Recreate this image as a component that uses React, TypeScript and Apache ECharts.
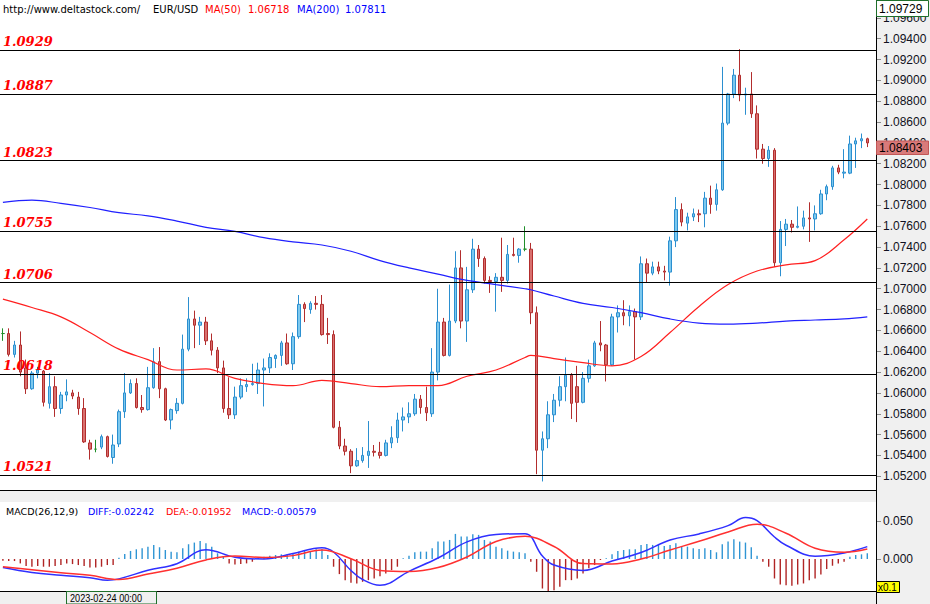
import React, { useEffect, useRef } from 'react';
import * as echarts from 'echarts';

const opens = [
  1.0657, 1.0657, 1.0637, 1.0646, 1.0624, 1.0604, 1.0619, 1.0621, 1.0590, 1.0606,
  1.0585, 1.0598, 1.0600, 1.0596, 1.0585, 1.0552, 1.0546, 1.0548, 1.0558, 1.0538,
  1.0551, 1.0582, 1.0600, 1.0609, 1.0586, 1.0584, 1.0605, 1.0630, 1.0604, 1.0574,
  1.0583, 1.0590, 1.0642, 1.0671, 1.0665, 1.0668, 1.0650, 1.0641, 1.0624, 1.0585,
  1.0579, 1.0596, 1.0606, 1.0608, 1.0609, 1.0622, 1.0624, 1.0633, 1.0636, 1.0648,
  1.0628, 1.0654, 1.0685, 1.0680, 1.0686, 1.0685, 1.0657, 1.0656, 1.0567, 1.0549,
  1.0544, 1.0530, 1.0535, 1.0540, 1.0544, 1.0543, 1.0540, 1.0552, 1.0557, 1.0574,
  1.0577, 1.0580, 1.0594, 1.0586, 1.0580, 1.0620, 1.0668, 1.0636, 1.0669, 1.0720,
  1.0669, 1.0699, 1.0738, 1.0729, 1.0708, 1.0707, 1.0711, 1.0708, 1.0733, 1.0732,
  1.0738, 1.0738, 1.0677, 1.0545, 1.0556, 1.0579, 1.0593, 1.0606, 1.0617, 1.0606,
  1.0591, 1.0614, 1.0626, 1.0648, 1.0646, 1.0627, 1.0673, 1.0677, 1.0674, 1.0678,
  1.0673, 1.0724, 1.0715, 1.0721, 1.0717, 1.0716, 1.0746, 1.0776, 1.0763, 1.0769,
  1.0772, 1.0772, 1.0787, 1.0781, 1.0795, 1.0859, 1.0887, 1.0905, 1.0886, 1.0887,
  1.0868, 1.0834, 1.0825, 1.0833, 1.0725, 1.0757, 1.0762, 1.0759, 1.0760, 1.0768,
  1.0767, 1.0772, 1.0791, 1.0798, 1.0816, 1.0811, 1.0811, 1.0839, 1.0842, 1.0844,
];

const closes = [
  1.0657, 1.0637, 1.0646, 1.0620, 1.0604, 1.0619, 1.0622, 1.0591, 1.0606, 1.0585,
  1.0598, 1.0601, 1.0597, 1.0585, 1.0553, 1.0546, 1.0546, 1.0558, 1.0539, 1.0550,
  1.0582, 1.0600, 1.0609, 1.0586, 1.0584, 1.0605, 1.0630, 1.0604, 1.0574, 1.0584,
  1.0590, 1.0642, 1.0671, 1.0665, 1.0668, 1.0650, 1.0641, 1.0624, 1.0585, 1.0579,
  1.0596, 1.0607, 1.0608, 1.0609, 1.0622, 1.0624, 1.0634, 1.0636, 1.0648, 1.0628,
  1.0654, 1.0685, 1.0681, 1.0686, 1.0685, 1.0656, 1.0656, 1.0567, 1.0549, 1.0544,
  1.0530, 1.0535, 1.0540, 1.0544, 1.0543, 1.0540, 1.0552, 1.0557, 1.0574, 1.0577,
  1.0580, 1.0594, 1.0586, 1.0581, 1.0620, 1.0668, 1.0636, 1.0669, 1.0720, 1.0669,
  1.0699, 1.0738, 1.0729, 1.0708, 1.0707, 1.0711, 1.0708, 1.0733, 1.0732, 1.0738,
  1.0738, 1.0677, 1.0545, 1.0556, 1.0579, 1.0593, 1.0606, 1.0617, 1.0590, 1.0591,
  1.0614, 1.0626, 1.0648, 1.0646, 1.0627, 1.0673, 1.0677, 1.0674, 1.0678, 1.0673,
  1.0724, 1.0715, 1.0721, 1.0717, 1.0716, 1.0746, 1.0776, 1.0764, 1.0769, 1.0772,
  1.0771, 1.0787, 1.0781, 1.0795, 1.0859, 1.0887, 1.0905, 1.0886, 1.0887, 1.0868,
  1.0834, 1.0825, 1.0833, 1.0725, 1.0757, 1.0762, 1.0759, 1.0760, 1.0768, 1.0767,
  1.0772, 1.0791, 1.0798, 1.0816, 1.0812, 1.0812, 1.0839, 1.0842, 1.0844, 1.0840,
];

const highs = [
  1.0662, 1.0662, 1.0650, 1.0659, 1.0632, 1.0621, 1.0625, 1.0622, 1.0619, 1.0616,
  1.0601, 1.0613, 1.0603, 1.0601, 1.0595, 1.0555, 1.0555, 1.0560, 1.0559, 1.0560,
  1.0584, 1.0619, 1.0613, 1.0614, 1.0598, 1.0625, 1.0643, 1.0644, 1.0605, 1.0585,
  1.0595, 1.0656, 1.0692, 1.0679, 1.0673, 1.0673, 1.0657, 1.0644, 1.0631, 1.0615,
  1.0606, 1.0614, 1.0614, 1.0628, 1.0629, 1.0633, 1.0638, 1.0637, 1.0650, 1.0657,
  1.0658, 1.0694, 1.0687, 1.0688, 1.0693, 1.0694, 1.0672, 1.0660, 1.0573, 1.0556,
  1.0546, 1.0547, 1.0548, 1.0573, 1.0550, 1.0553, 1.0555, 1.0568, 1.0581, 1.0586,
  1.0591, 1.0599, 1.0598, 1.0606, 1.0643, 1.0700, 1.0672, 1.0704, 1.0736, 1.0737,
  1.0721, 1.0748, 1.0742, 1.0731, 1.0712, 1.0715, 1.0749, 1.0742, 1.0749, 1.0739,
  1.0760, 1.0744, 1.0683, 1.0563, 1.0592, 1.0599, 1.0616, 1.0634, 1.0619, 1.0626,
  1.0620, 1.0632, 1.0650, 1.0669, 1.0647, 1.0676, 1.0684, 1.0689, 1.0684, 1.0681,
  1.0731, 1.0729, 1.0726, 1.0726, 1.0722, 1.0750, 1.0788, 1.0782, 1.0773, 1.0777,
  1.0776, 1.0793, 1.0799, 1.0801, 1.0913, 1.0888, 1.0911, 1.0930, 1.0893, 1.0908,
  1.0876, 1.0839, 1.0837, 1.0835, 1.0765, 1.0767, 1.0766, 1.0779, 1.0775, 1.0783,
  1.0780, 1.0795, 1.0800, 1.0818, 1.0819, 1.0834, 1.0847, 1.0845, 1.0849, 1.0845,
];

const lows = [
  1.0650, 1.0635, 1.0634, 1.0616, 1.0599, 1.0603, 1.0614, 1.0587, 1.0585, 1.0577,
  1.0580, 1.0592, 1.0594, 1.0579, 1.0552, 1.0536, 1.0543, 1.0546, 1.0538, 1.0532,
  1.0548, 1.0576, 1.0599, 1.0585, 1.0581, 1.0583, 1.0604, 1.0595, 1.0573, 1.0565,
  1.0580, 1.0589, 1.0640, 1.0643, 1.0646, 1.0646, 1.0636, 1.0619, 1.0581, 1.0575,
  1.0575, 1.0594, 1.0601, 1.0607, 1.0599, 1.0587, 1.0619, 1.0624, 1.0626, 1.0627,
  1.0622, 1.0652, 1.0668, 1.0676, 1.0680, 1.0655, 1.0647, 1.0566, 1.0546, 1.0540,
  1.0523, 1.0529, 1.0533, 1.0528, 1.0539, 1.0537, 1.0539, 1.0547, 1.0552, 1.0563,
  1.0571, 1.0578, 1.0580, 1.0573, 1.0577, 1.0612, 1.0635, 1.0635, 1.0667, 1.0662,
  1.0649, 1.0696, 1.0721, 1.0705, 1.0696, 1.0678, 1.0697, 1.0705, 1.0731, 1.0725,
  1.0736, 1.0666, 1.0522, 1.0515, 1.0547, 1.0572, 1.0587, 1.0592, 1.0575, 1.0572,
  1.0590, 1.0610, 1.0625, 1.0640, 1.0611, 1.0626, 1.0658, 1.0665, 1.0664, 1.0632,
  1.0670, 1.0706, 1.0713, 1.0714, 1.0708, 1.0703, 1.0740, 1.0760, 1.0756, 1.0765,
  1.0764, 1.0759, 1.0772, 1.0775, 1.0794, 1.0857, 1.0883, 1.0880, 1.0867, 1.0864,
  1.0825, 1.0820, 1.0817, 1.0721, 1.0712, 1.0741, 1.0754, 1.0758, 1.0757, 1.0745,
  1.0756, 1.0771, 1.0785, 1.0795, 1.0810, 1.0806, 1.0810, 1.0816, 1.0835, 1.0836,
];

const levels = [1.0929, 1.0887, 1.0823, 1.0755, 1.0706, 1.0618, 1.0521];

// moving averages read at sampled candle indexes
const maIdx = [0, 5, 10, 15, 20, 25, 30, 35, 40, 45, 50, 55, 60, 65, 70, 75, 80, 85, 90, 91, 95, 100, 105, 110, 115, 120, 125, 130, 135, 140, 145, 149];
const ma50 = [1.0690, 1.0682, 1.0673, 1.0658, 1.0642, 1.0632, 1.0622, 1.0623, 1.0614, 1.0609, 1.0607, 1.0612, 1.0609, 1.0606, 1.0607, 1.0607, 1.0616, 1.0622, 1.0634, 1.0636, 1.0633, 1.0629, 1.0626, 1.0635, 1.0658, 1.0683, 1.0704, 1.0717, 1.0723, 1.0727, 1.0747, 1.0767];
const ma200 = [1.0783, 1.0785, 1.0782, 1.0778, 1.0773, 1.0770, 1.0765, 1.0759, 1.0755, 1.0749, 1.0745, 1.0742, 1.0736, 1.0727, 1.0720, 1.0714, 1.0708, 1.0704, 1.0700, 1.0699, 1.0693, 1.0686, 1.0682, 1.0677, 1.0671, 1.0667, 1.0666, 1.0667, 1.0669, 1.0670, 1.0671, 1.0673];

const macdHist = [
  -0.0022, -0.0027, -0.0027, -0.0058, -0.0093, -0.0102, -0.0093, -0.0102, -0.0102, -0.0093,
  -0.0080, -0.0058, -0.0067, -0.0080, -0.0093, -0.0111, -0.0111, -0.0102, -0.0080, -0.0080,
  0.0018, 0.0067, 0.0107, 0.0129, 0.0142, 0.0164, 0.0187, 0.0156, 0.0120, 0.0098,
  0.0089, 0.0142, 0.0196, 0.0218, 0.0240, 0.0209, 0.0164, 0.0076, 0.0031, -0.0058,
  -0.0071, -0.0067, -0.0058, -0.0036, 0.0022, 0.0031, 0.0044, 0.0053, 0.0062, 0.0062,
  0.0076, 0.0098, 0.0107, 0.0107, 0.0129, 0.0129, 0.0053, -0.0102, -0.0200, -0.0280,
  -0.0316, -0.0324, -0.0302, -0.0280, -0.0258, -0.0227, -0.0191, -0.0147, -0.0102, 0.0009,
  0.0044, 0.0089, 0.0098, 0.0098, 0.0142, 0.0231, 0.0231, 0.0253, 0.0333, 0.0298,
  0.0298, 0.0329, 0.0320, 0.0253, 0.0231, 0.0164, 0.0142, 0.0111, 0.0098, 0.0089,
  0.0076, -0.0036, -0.0169, -0.0391, -0.0436, -0.0413, -0.0369, -0.0280, -0.0280, -0.0258,
  -0.0191, -0.0124, -0.0080, -0.0013, 0.0009, 0.0062, 0.0107, 0.0120, 0.0129, 0.0129,
  0.0187, 0.0200, 0.0187, 0.0187, 0.0173, 0.0187, 0.0209, 0.0173, 0.0164, 0.0142,
  0.0133, 0.0142, 0.0120, 0.0089, 0.0196, 0.0231, 0.0262, 0.0231, 0.0218, 0.0156,
  0.0044, -0.0036, -0.0102, -0.0258, -0.0338, -0.0347, -0.0356, -0.0338, -0.0324, -0.0280,
  -0.0258, -0.0204, -0.0133, -0.0089, -0.0058, -0.0036, 0.0031, 0.0053, 0.0062, 0.0076,
];

const diffIdx = [0, 5, 10, 15, 18, 20, 25, 30, 35, 40, 45, 50, 55, 57, 60, 62, 65, 70, 75, 80, 85, 90, 93, 95, 100, 105, 110, 115, 120, 125, 128, 130, 133, 135, 140, 145, 149];
const diff = [-0.0113, -0.0179, -0.0216, -0.0248, -0.0281, -0.0263, -0.0150, -0.0062, 0.0123, 0.0024, 0.0000, 0.0073, 0.0151, 0.0093, -0.0153, -0.0272, -0.0349, -0.0163, 0.0013, 0.0228, 0.0325, 0.0336, 0.0040, -0.0080, -0.0151, -0.0027, 0.0086, 0.0252, 0.0333, 0.0443, 0.0550, 0.0508, 0.0292, 0.0183, 0.0037, 0.0080, 0.0164];
const deaIdx = [0, 5, 10, 15, 20, 25, 30, 35, 40, 45, 50, 55, 60, 65, 70, 75, 80, 85, 90, 95, 100, 105, 110, 115, 120, 125, 130, 135, 140, 145, 149];
const dea = [-0.0102, -0.0143, -0.0182, -0.0216, -0.0272, -0.0199, -0.0122, -0.0012, 0.0040, 0.0020, 0.0045, 0.0121, 0.0004, -0.0151, -0.0166, -0.0113, 0.0027, 0.0232, 0.0301, 0.0166, -0.0060, -0.0066, 0.0000, 0.0119, 0.0235, 0.0358, 0.0462, 0.0342, 0.0143, 0.0090, 0.0133];

const BULL_FILL = '#7cc8ee';
const BULL_LINE = '#2b8fd0';
const BEAR_FILL = '#d8706e';
const BEAR_LINE = '#b22d2d';
const AXIS_FONT = "'Liberation Sans', Arial, sans-serif";
const HEAD_FONT = "'DejaVu Sans', Tahoma, sans-serif";

export default function App() {
  const ref = useRef<HTMLDivElement>(null);

  useEffect(() => {
    if (!ref.current) return;
    const chart = echarts.init(ref.current, null, { renderer: 'svg' });
    const categories = opens.map((_, i) => String(i)).concat(['']);
    const candles = opens.map((o, i) => [o, closes[i], lows[i], highs[i]]);

    const headText = (text: string, x: number, y: number, fill: string, size = 10) => ({
      type: 'text',
      x,
      y,
      z: 50,
      style: { text, fill, font: `${size}px ${HEAD_FONT}`, verticalAlign: 'middle' },
    });

    const option: any = {
      animation: false,
      backgroundColor: '#f0f0f0',
      grid: [
        { left: 0, right: 54, top: 0, height: 490, show: true, backgroundColor: '#ffffff', borderWidth: 0 },
        { left: 0, right: 54, top: 502, height: 89, show: true, backgroundColor: '#ffffff', borderWidth: 0 },
      ],
      xAxis: [
        {
          type: 'category', gridIndex: 0, data: categories, boundaryGap: true,
          axisLine: { show: false }, axisTick: { show: false }, axisLabel: { show: false }, splitLine: { show: false },
        },
        {
          type: 'category', gridIndex: 1, data: categories, boundaryGap: true,
          axisLine: { show: false }, axisTick: { show: false }, axisLabel: { show: false }, splitLine: { show: false },
        },
      ],
      yAxis: [
        {
          type: 'value', gridIndex: 0, position: 'right',
          min: 1.05068, max: 1.09772, splitNumber: 24, minInterval: 0.002, maxInterval: 0.002,
          axisLine: { show: true, lineStyle: { color: '#000', width: 1 } },
          axisTick: { show: true, length: 5, lineStyle: { color: '#8a8a8a' } },
          axisLabel: {
            show: true, showMinLabel: false, showMaxLabel: false, margin: 7,
            color: '#101020', fontFamily: AXIS_FONT, fontSize: 12,
            formatter: (v: number) => v.toFixed(5),
          },
          splitLine: { show: false },
        },
        {
          type: 'value', gridIndex: 1, position: 'right',
          min: -0.0424, max: 0.0756, splitNumber: 2, minInterval: 0.05, maxInterval: 0.05,
          axisLine: { show: true, lineStyle: { color: '#000', width: 1 } },
          axisTick: { show: true, length: 5, lineStyle: { color: '#8a8a8a' } },
          axisLabel: {
            show: true, showMinLabel: false, showMaxLabel: false, margin: 7,
            color: '#101020', fontFamily: AXIS_FONT, fontSize: 12,
            formatter: (v: number) => v.toFixed(3),
          },
          splitLine: { show: false },
        },
      ],
      series: [
        {
          name: 'EUR/USD',
          type: 'candlestick',
          xAxisIndex: 0,
          yAxisIndex: 0,
          data: candles,
          barWidth: 3,
          itemStyle: {
            color: BULL_FILL,
            color0: BEAR_FILL,
            borderColor: BULL_LINE,
            borderColor0: BEAR_LINE,
            borderColorDoji: '#1f8f2a',
            borderWidth: 1,
          },
          markLine: {
            silent: true,
            precision: 4,
            symbol: ['none', 'none'],
            lineStyle: { color: '#000', width: 1, type: 'solid' },
            label: {
              show: true,
              position: 'insideStartTop',
              distance: [3, 2],
              formatter: (p: any) => Number(p.value).toFixed(4),
              color: '#ff0000',
              fontFamily: "'DejaVu Serif', serif",
              fontStyle: 'italic',
              fontWeight: 'bold',
              fontSize: 13,
            },
            emphasis: { disabled: true },
            data: levels.map((v) => ({ yAxis: v })),
          },
          z: 2,
        },
        {
          name: 'MA(50)',
          type: 'line',
          xAxisIndex: 0,
          yAxisIndex: 0,
          data: maIdx.map((idx, k) => [idx, ma50[k]]),
          smooth: 0.4,
          showSymbol: false,
          symbol: 'none',
          lineStyle: { color: '#ff2020', width: 1.2 },
          z: 3,
        },
        {
          name: 'MA(200)',
          type: 'line',
          xAxisIndex: 0,
          yAxisIndex: 0,
          data: maIdx.map((idx, k) => [idx, ma200[k]]),
          smooth: 0.4,
          showSymbol: false,
          symbol: 'none',
          lineStyle: { color: '#2020ff', width: 1.2 },
          z: 3,
        },
        {
          name: 'MACD',
          type: 'bar',
          xAxisIndex: 1,
          yAxisIndex: 1,
          data: macdHist,
          barWidth: 1.4,
          itemStyle: {
            color: (p: any) => (p.value >= 0 ? '#2f95d4' : '#b02424'),
          },
        },
        {
          name: 'DIFF',
          type: 'line',
          xAxisIndex: 1,
          yAxisIndex: 1,
          data: diffIdx.map((idx, k) => [idx, diff[k]]),
          smooth: 0.4,
          showSymbol: false,
          symbol: 'none',
          lineStyle: { color: '#3030ff', width: 1.5 },
          z: 3,
        },
        {
          name: 'DEA',
          type: 'line',
          xAxisIndex: 1,
          yAxisIndex: 1,
          data: deaIdx.map((idx, k) => [idx, dea[k]]),
          smooth: 0.4,
          showSymbol: false,
          symbol: 'none',
          lineStyle: { color: '#ff3030', width: 1.5 },
          z: 3,
        },
      ],
      graphic: [
        { type: 'line', z: 40, shape: { x1: 0, y1: 490.5, x2: 876, y2: 490.5 }, style: { stroke: '#000', lineWidth: 1 } },
        { type: 'line', z: 40, shape: { x1: 0, y1: 591.5, x2: 876, y2: 591.5 }, style: { stroke: '#000', lineWidth: 1 } },
        { type: 'line', z: 40, shape: { x1: 876.5, y1: 0, x2: 876.5, y2: 604 }, style: { stroke: '#000', lineWidth: 1 } },
        headText('http://www.deltastock.com/', 3, 9, '#000'),
        headText('EUR/USD', 153, 9, '#000'),
        headText('MA(50)', 205, 9, '#ff0000'),
        headText('1.06718', 248, 9, '#ff0000'),
        headText('MA(200)', 297, 9, '#0000ff'),
        headText('1.07811', 345, 9, '#0000ff'),
        headText('MACD(26,12,9)', 6, 511, '#000', 9.5),
        headText('DIFF:-0.02242', 88, 511, '#0000ff', 9.5),
        headText('DEA:-0.01952', 166, 511, '#ff0000', 9.5),
        headText('MACD:-0.00579', 242, 511, '#0000ff', 9.5),
        {
          type: 'group', z: 60,
          children: [
            { type: 'rect', z: 60, shape: { x: 876.5, y: 0.5, width: 52, height: 16 }, style: { fill: '#ffffff', stroke: '#1f6f2a', lineWidth: 1 } },
            { type: 'text', z: 61, x: 879, y: 9, style: { text: '1.09729', fill: '#000', font: `12px ${AXIS_FONT}`, verticalAlign: 'middle' } },
            { type: 'rect', z: 60, shape: { x: 876.5, y: 141, width: 52, height: 13.5 }, style: { fill: '#d97a7a', stroke: '#c25656', lineWidth: 1 } },
            { type: 'text', z: 61, x: 879, y: 148, style: { text: '1.08403', fill: '#000', font: `12px ${AXIS_FONT}`, verticalAlign: 'middle' } },
            { type: 'rect', z: 60, shape: { x: 876.5, y: 581.5, width: 23, height: 11 }, style: { fill: '#ffff00', stroke: '#000', lineWidth: 1 } },
            { type: 'text', z: 61, x: 878, y: 587.5, scaleX: 0.9, style: { text: 'x0.1', fill: '#000', font: `11px ${AXIS_FONT}`, verticalAlign: 'middle' } },
            { type: 'rect', z: 60, shape: { x: 66.5, y: 591.5, width: 90, height: 12.5 }, style: { fill: '#f0f0f0', stroke: '#1f6f2a', lineWidth: 1 } },
            { type: 'text', z: 61, x: 70, y: 598, scaleX: 0.83, style: { text: '2023-02-24 00:00', fill: '#000', font: `11px ${AXIS_FONT}`, verticalAlign: 'middle' } },
          ],
        },
      ],
    };

    chart.setOption(option);
    return () => chart.dispose();
  }, []);

  return (
    <div
      ref={ref}
      style={{ position: 'fixed', left: 0, top: 0, width: 930, height: 604, background: '#f0f0f0' }}
    />
  );
}
